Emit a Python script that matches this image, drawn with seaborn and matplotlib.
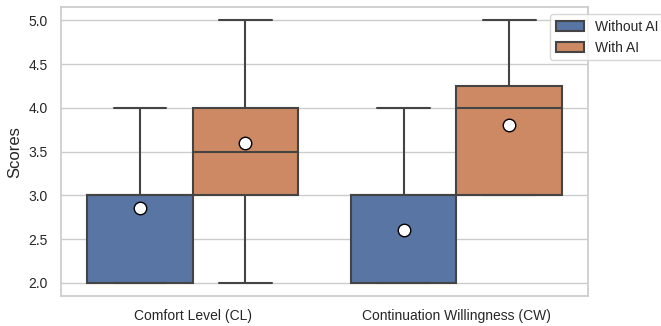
import numpy as np
import pandas as pd
import matplotlib
matplotlib.use("Agg")
import matplotlib.pyplot as plt
import seaborn as sns

sns.set_theme(style="whitegrid")
plt.rcParams['font.family'] = ['Liberation Sans', 'DejaVu Sans']

# Likert scores (score value -> number of answers)
score_levels = [2, 3, 4, 5]
cl_without_counts = [6, 11, 3, 0]
cl_with_counts = [1, 9, 7, 3]
cw_without_counts = [9, 10, 1, 0]
cw_with_counts = [0, 9, 6, 5]

measures = ['Comfort Level (CL)', 'Continuation Willingness (CW)']
groups = ['Without AI', 'With AI']

rows = []
for measure, group, counts in [
    (measures[0], groups[0], cl_without_counts),
    (measures[0], groups[1], cl_with_counts),
    (measures[1], groups[0], cw_without_counts),
    (measures[1], groups[1], cw_with_counts),
]:
    for s in np.repeat(score_levels, counts):
        rows.append({'Measure': measure, 'Group': group, 'Score': s})
df = pd.DataFrame(rows)

fig, ax = plt.subplots(figsize=(6.61, 3.26), dpi=100)
sns.boxplot(data=df, x='Measure', y='Score', hue='Group', order=measures, hue_order=groups,
            showmeans=True, linewidth=1.5, linecolor='#444444',
            meanprops=dict(marker='o', markerfacecolor='white', markeredgecolor='black', markersize=9),
            ax=ax)
ax.set_xlabel('')
ax.set_ylabel('Scores', fontsize=12)
ax.tick_params(axis='both', labelsize=10)
ax.set_yticks(np.arange(2.0, 5.01, 0.5))
ax.set_yticklabels([f'{v:.1f}' for v in np.arange(2.0, 5.01, 0.5)])
ax.legend(loc='upper left', bbox_to_anchor=(0.915, 1.0), fontsize=10)

fig.subplots_adjust(left=0.092, right=0.89, top=0.978, bottom=0.092)
fig.savefig('out.png', dpi=100)
